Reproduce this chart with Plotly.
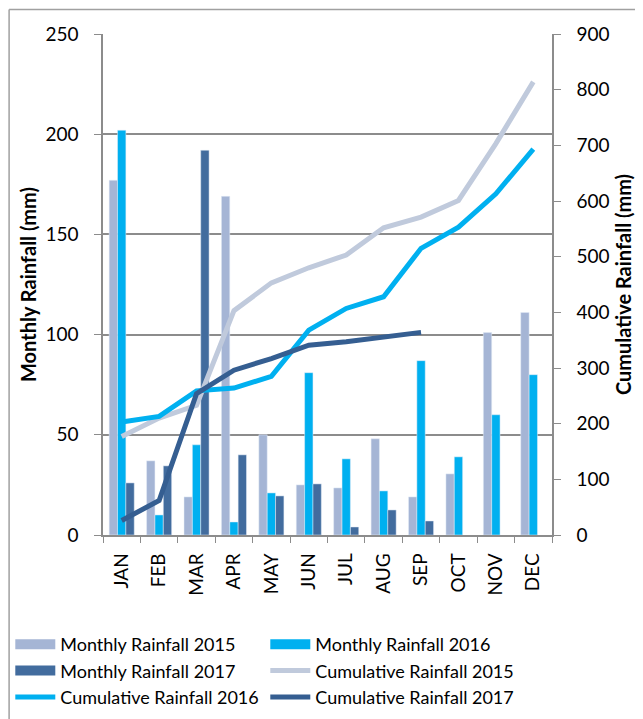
import plotly.graph_objects as go

months = ["JAN", "FEB", "MAR", "APR", "MAY", "JUN", "JUL", "AUG", "SEP", "OCT", "NOV", "DEC"]

monthly_2015 = [177, 37, 19, 169, 50, 25, 23.5, 48, 19, 30.5, 101, 111]
monthly_2016 = [202, 10, 45, 6.5, 21, 81, 38, 22, 87, 39, 60, 80]
monthly_2017 = [26, 34.5, 192, 40, 19.5, 25.5, 4, 12.5, 7, None, None, None]

cum_2015 = [177, 210, 233, 403, 453, 480, 503, 552, 571, 601, 703, 814]
cum_2016 = [203, 213, 259, 264, 285, 368, 407, 428, 515, 553, 613, 693]
cum_2017 = [26, 62, 254, 296, 317, 341, 347, 356, 364, None, None, None]

FONT = "Lato, 'Open Sans', sans-serif"
GRID = "#8c8c8c"
C15, C16, C17 = "#A5B5D5", "#00B0F0", "#426C9E"
L15, L16, L17 = "#C0CADC", "#00B0F0", "#355E91"

# page is shown with an 8px body margin, so the figure is sized 8px smaller
W, H = 635, 711
ML, MR, MT, MB = 94.7, 91.3, 26, 184
PW, PH = W - ML - MR, H - MT - MB

fig = go.Figure()
# legend-only swatches for the bar series (wide rectangles like the original)
for name, col in [("Monthly Rainfall 2015", C15), ("Monthly Rainfall 2016", C16), ("Monthly Rainfall 2017", C17)]:
    fig.add_trace(go.Scatter(x=[None], y=[None], name=name, mode="lines",
                             line=dict(color=col, width=11), hoverinfo="skip"))
fig.add_trace(go.Bar(x=months, y=monthly_2015, name="Monthly Rainfall 2015", marker_color=C15, showlegend=False))
fig.add_trace(go.Bar(x=months, y=monthly_2016, name="Monthly Rainfall 2016", marker_color=C16, showlegend=False))
fig.add_trace(go.Bar(x=months, y=monthly_2017, name="Monthly Rainfall 2017", marker_color=C17, showlegend=False))
fig.add_trace(go.Scatter(x=months, y=cum_2015, name="Cumulative Rainfall 2015", mode="lines",
                         line=dict(color=L15, width=5), yaxis="y2"))
fig.add_trace(go.Scatter(x=months, y=cum_2016, name="Cumulative Rainfall 2016", mode="lines",
                         line=dict(color=L16, width=5), yaxis="y2"))
fig.add_trace(go.Scatter(x=months, y=cum_2017, name="Cumulative Rainfall 2017", mode="lines",
                         line=dict(color=L17, width=5), yaxis="y2"))

px = lambda v: (v - ML) / PW          # layout px -> paper x
py = lambda v: (H - MB - v) / PH      # layout px (from top) -> paper y

fig.update_layout(
    width=W, height=H,
    margin=dict(l=ML, r=MR, t=MT, b=MB, autoexpand=False),
    paper_bgcolor="white", plot_bgcolor="white",
    font=dict(family=FONT, size=18, color="#000000"),
    barmode="group", bargap=0.33, bargroupgap=0,
    showlegend=True,
    legend=dict(orientation="h", x=px(2), xanchor="left", y=py(618), yanchor="top",
                entrywidth=200, entrywidthmode="pixels",
                font=dict(family=FONT, size=18, color="#000000"),
                traceorder="normal", itemwidth=40, tracegroupgap=0),
    xaxis=dict(type="category", tickangle=-90, showline=True, linecolor=GRID, linewidth=1.5,
               ticks="outside", tickcolor=GRID, ticklen=6, tickson="boundaries",
               showgrid=False, tickfont=dict(size=19), automargin=False, ticklabelstandoff=9),
    yaxis=dict(range=[0, 250], dtick=50, showgrid=True, gridcolor=GRID, gridwidth=1.5,
               showline=True, linecolor=GRID, linewidth=1.5, ticks="outside", tickcolor=GRID,
               ticklen=7, zeroline=False, automargin=False, ticklabelstandoff=12,
               title=dict(text="<b>Monthly Rainfall (mm)</b>", font=dict(size=20), standoff=3),
               tickfont=dict(size=19)),
    yaxis2=dict(range=[0, 900], dtick=100, overlaying="y", side="right", showgrid=False,
                showline=True, linecolor=GRID, linewidth=1.5, ticks="outside", tickcolor=GRID,
                ticklen=7, zeroline=False, automargin=False, ticklabelstandoff=12,
                title=dict(text="<b>Cumulative Rainfall (mm)</b>", font=dict(size=20), standoff=8),
                tickfont=dict(size=19)),
    shapes=[
        dict(type="line", xref="paper", yref="paper", x0=px(0.8), x1=px(0.8), y0=py(H), y1=py(1.5),
             line=dict(color="#a0a0a0", width=1.5), layer="below"),
        dict(type="line", xref="paper", yref="paper", x0=px(0.8), x1=px(W), y0=py(1.5), y1=py(1.5),
             line=dict(color="#a0a0a0", width=1.5), layer="below"),
    ],
)

fig.write_html("out.html")
